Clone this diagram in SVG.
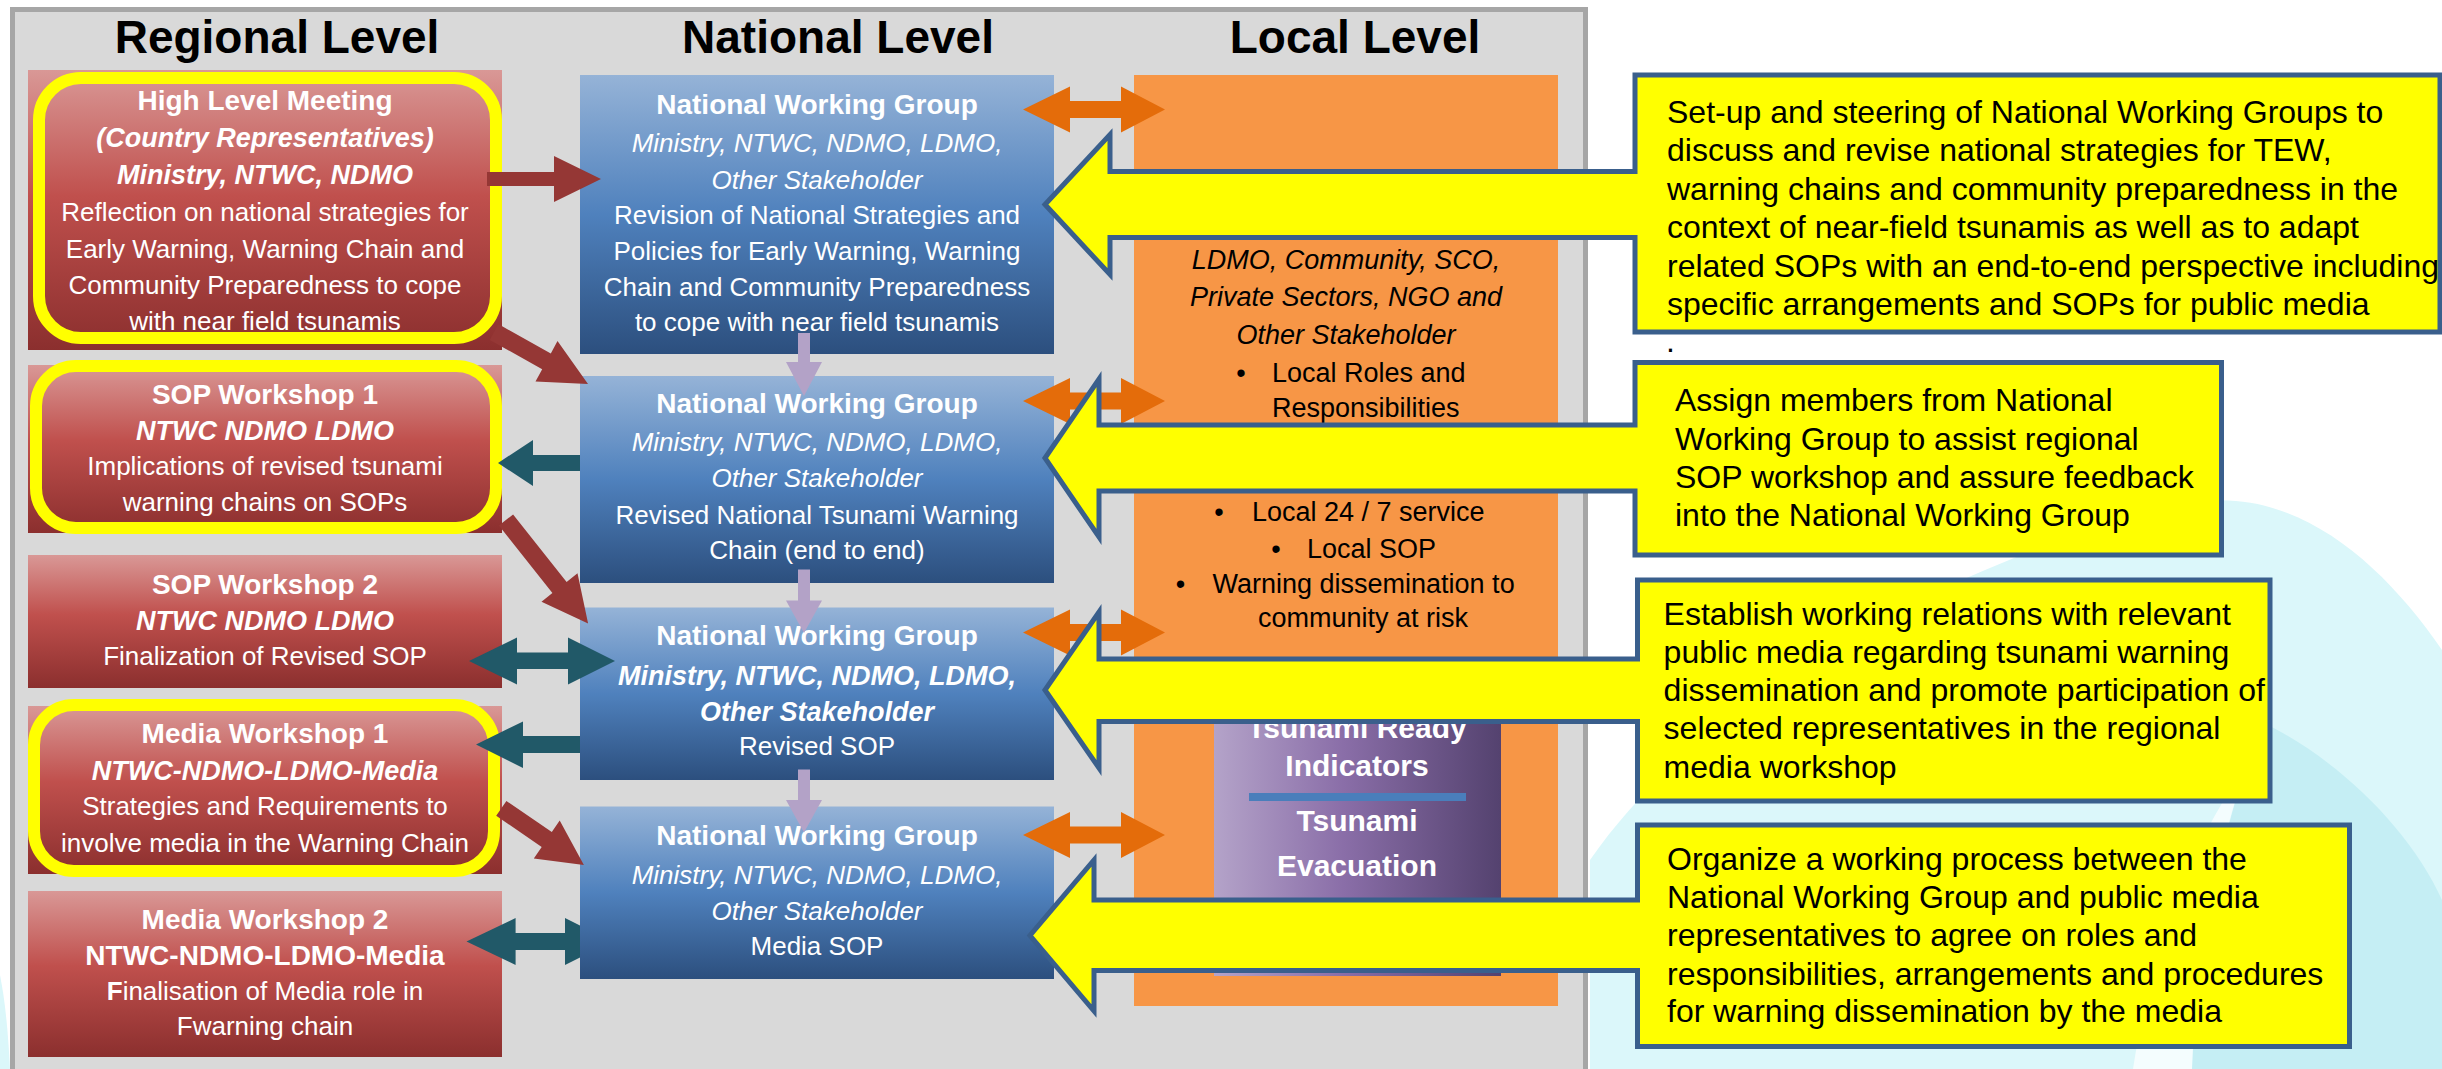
<svg xmlns="http://www.w3.org/2000/svg" width="2442" height="1069" viewBox="0 0 2442 1069">
<defs>
<linearGradient id="gRed" x1="0" y1="0" x2="0" y2="1">
<stop offset="0" stop-color="#d99896"/><stop offset="0.45" stop-color="#c0504d"/><stop offset="1" stop-color="#8b2f2e"/>
</linearGradient>
<linearGradient id="gBlue" x1="0" y1="0" x2="0" y2="1">
<stop offset="0" stop-color="#95b3d7"/><stop offset="0.5" stop-color="#4f81bd"/><stop offset="1" stop-color="#2c4f7e"/>
</linearGradient>
<linearGradient id="gPurple" x1="0" y1="0" x2="1" y2="0">
<stop offset="0" stop-color="#b4a3c9"/><stop offset="0.45" stop-color="#8a6ea8"/><stop offset="1" stop-color="#54426f"/>
</linearGradient>
<style>
text{font-family:"Liberation Sans",Arial,sans-serif}
.w{fill:#fff;font-size:26px;text-anchor:middle}
.b{font-weight:bold;font-size:28px}
.bi{font-weight:bold;font-style:italic;font-size:27px}
.i{font-style:italic}
.l{fill:#000;font-size:27px}
.lc{text-anchor:middle}
.c{fill:#000;font-size:32px}
.p{fill:#fff;font-size:30px;font-weight:bold;text-anchor:middle}
.h{fill:#000;font-size:46px;font-weight:bold;text-anchor:middle}
.red{fill:url(#gRed)}
.blue{fill:url(#gBlue)}
.ring{fill:none;stroke:#ffff00;stroke-width:12}
.ar{fill:#953735}
.at{fill:#215968}
.al{fill:#b3a2c7}
.ao{fill:#e46c0a}
.co{fill:#ffff00;stroke:#3a5f8c;stroke-width:5;stroke-linejoin:miter}
</style>
</defs>
<rect width="2442" height="1069" fill="#ffffff"/>
<g id="background">
<path d="M1590 1069 V860 C1700 700 1950 560 2180 505 C2290 480 2380 560 2442 650 V1069 Z" fill="#dbf7fa"/>
<path d="M2190 1069 C2200 930 2230 800 2262 722 C2340 760 2410 830 2442 900 V1069 Z" fill="#c5eef4"/>
<path d="M2133 1069 C2150 960 2180 870 2230 790 L2245 770 C2215 860 2196 960 2192 1069 Z" fill="#f4fdfe"/>
<path d="M0 975 C5 1000 8 1030 10 1069 H0 Z" fill="#dbf7fa"/>
</g>
<rect id="panel" x="12.5" y="9.5" width="1573" height="1075" fill="#d9d9d9" stroke="#a6a6a6" stroke-width="5"/>
<g id="titles">
<text class="h" x="277" y="53">Regional Level</text>
<text class="h" x="838" y="53">National Level</text>
<text class="h" x="1355" y="53">Local Level</text>
</g>

<g id="high-level-meeting">
<rect class="red" x="28" y="70" width="474" height="280"/>
<rect class="ring" x="39" y="78" width="457" height="260" rx="42"/>
<text class="w b" x="265" y="110">High Level Meeting</text>
<text class="w bi" x="265" y="147">(Country Representatives)</text>
<text class="w bi" x="265" y="184">Ministry, NTWC, NDMO</text>
<text class="w" x="265" y="221">Reflection on national strategies for</text>
<text class="w" x="265" y="257.5">Early Warning, Warning Chain and</text>
<text class="w" x="265" y="294">Community Preparedness to cope</text>
<text class="w" x="265" y="330">with near field tsunamis</text>
</g>
<g id="sop-workshop-1">
<rect class="red" x="28" y="365" width="474" height="168"/>
<rect class="ring" x="36" y="366" width="460" height="162" rx="40"/>
<text class="w b" x="265" y="403.6">SOP Workshop 1</text>
<text class="w bi" x="265" y="440">NTWC NDMO LDMO</text>
<text class="w" x="265" y="475">Implications of revised tsunami</text>
<text class="w" x="265" y="511">warning chains on SOPs</text>
</g>
<g id="sop-workshop-2">
<rect class="red" x="28" y="555" width="474" height="133"/>
<text class="w b" x="265" y="593.6">SOP Workshop 2</text>
<text class="w bi" x="265" y="629.7">NTWC NDMO LDMO</text>
<text class="w" x="265" y="665">Finalization of Revised SOP</text>
</g>
<g id="media-workshop-1">
<rect class="red" x="28" y="706" width="474" height="168"/>
<rect class="ring" x="34" y="705" width="460" height="166" rx="40"/>
<text class="w b" x="265" y="743">Media Workshop 1</text>
<text class="w bi" x="265" y="780">NTWC-NDMO-LDMO-Media</text>
<text class="w" x="265" y="815">Strategies and Requirements to</text>
<text class="w" x="265" y="851.5">involve media in the Warning Chain</text>
</g>
<g id="media-workshop-2">
<rect class="red" x="28" y="891" width="474" height="166"/>
<text class="w b" x="265" y="929">Media Workshop 2</text>
<text class="w b" x="265" y="965">NTWC-NDMO-LDMO-Media</text>
<text class="w" x="265" y="1000"><tspan font-weight="bold">F</tspan>inalisation of Media role in</text>
<text class="w" x="265" y="1035">Fwarning chain</text>
</g>

<g id="nwg-1">
<rect class="blue" x="580" y="75" width="474" height="279"/>
<text class="w b" x="817" y="113.6">National Working Group</text>
<text class="w i" x="817" y="151.5">Ministry, NTWC, NDMO, LDMO,</text>
<text class="w i" x="817" y="188.7">Other Stakeholder</text>
<text class="w" x="817" y="223.9">Revision of National Strategies and</text>
<text class="w" x="817" y="260">Policies for Early Warning, Warning</text>
<text class="w" x="817" y="295.5">Chain and Community Preparedness</text>
<text class="w" x="817" y="330.6">to cope with near field tsunamis</text>
</g>
<g id="nwg-2">
<rect class="blue" x="580" y="376" width="474" height="207"/>
<text class="w b" x="817" y="413">National Working Group</text>
<text class="w i" x="817" y="451">Ministry, NTWC, NDMO, LDMO,</text>
<text class="w i" x="817" y="487">Other Stakeholder</text>
<text class="w" x="817" y="523.5">Revised National Tsunami Warning</text>
<text class="w" x="817" y="559">Chain (end to end)</text>
</g>
<g id="nwg-3">
<rect class="blue" x="580" y="607.5" width="474" height="172.5"/>
<text class="w b" x="817" y="645">National Working Group</text>
<text class="w bi" x="817" y="684.7">Ministry, NTWC, NDMO, LDMO,</text>
<text class="w bi" x="817" y="721">Other Stakeholder</text>
<text class="w" x="817" y="755">Revised SOP</text>
</g>
<g id="nwg-4">
<rect class="blue" x="580" y="806.5" width="474" height="172.5"/>
<text class="w b" x="817" y="844.6">National Working Group</text>
<text class="w i" x="817" y="884">Ministry, NTWC, NDMO, LDMO,</text>
<text class="w i" x="817" y="920">Other Stakeholder</text>
<text class="w" x="817" y="954.6">Media SOP</text>
</g>

<g id="local-level">
<rect x="1134" y="75" width="424" height="931" fill="#f79646"/>
<text class="l i lc" x="1346" y="268.6">LDMO, Community, SCO,</text>
<text class="l i lc" x="1346" y="305.8">Private Sectors, NGO and</text>
<text class="l i lc" x="1346" y="344">Other Stakeholder</text>
<text class="l lc" x="1241" y="381.6">•</text>
<text class="l" x="1272" y="381.6">Local Roles and</text>
<text class="l" x="1272" y="416.7">Responsibilities</text>
<text class="l lc" x="1219" y="521">•</text>
<text class="l" x="1252" y="521">Local 24 / 7 service</text>
<text class="l lc" x="1276" y="557.5">•</text>
<text class="l" x="1307" y="557.5">Local SOP</text>
<text class="l lc" x="1180.5" y="593">•</text>
<text class="l" x="1212.5" y="593">Warning dissemination to</text>
<text class="l lc" x="1363" y="627">community at risk</text>
</g>
<g id="tsunami-ready">
<rect x="1214" y="670" width="287" height="306" fill="url(#gPurple)"/>
<text class="p" x="1357" y="738">Tsunami Ready</text>
<text class="p" x="1357" y="776">Indicators</text>
<rect x="1249" y="793" width="217" height="8" fill="#4a7ebb"/>
<text class="p" x="1357" y="831">Tsunami</text>
<text class="p" x="1357" y="876">Evacuation</text>
</g>

<g id="connectors">
<polygon class="ar" points="487,172 554,172 554,156 601,179 554,202 554,186 487,186"/>
<polygon class="ar" points="498.3,324.1 550.8,353.4 557.5,341.1 588,384 535.5,381.5 542.2,369.2 489.7,339.9"/>
<polygon class="ar" points="513.1,514.4 566.6,581.9 577.5,573.2 588.1,623.6 541.5,601.8 552.4,593.1 498.9,525.6"/>
<polygon class="ar" points="506.4,801 551.8,832.1 559.7,820.5 583.9,864.9 533.8,858.5 541.7,846.9 496.2,815.8"/>
<polygon class="at" points="580,455 533,455 533,440 498,463 533,486 533,471 580,471"/>
<polygon class="at" points="469,661 517,637.5 517,652.5 568,652.5 568,637.5 615,661 568,684.5 568,669 517,669 517,684.5"/>
<polygon class="at" points="580,736 523,736 523,721.5 476,744.5 523,768 523,753 580,753"/>
<polygon class="at" points="466.5,941.5 515.6,918 515.6,933 565,933 565,918 580,925.5 580,957.5 565,965 565,950 515.6,950 515.6,965"/>
<polygon class="al" points="798,333 810,333 810,362 822,362 804,396 786,362 798,362"/>
<polygon class="al" points="798,569.5 810,569.5 810,600.5 822,600.5 804,633 786,600.5 798,600.5"/>
<polygon class="al" points="798,769.6 810,769.6 810,800 822,800 804,832.5 786,800 798,800"/>
<polygon class="ao" points="1023,109.5 1070,86.5 1070,101 1121,101 1121,86.5 1165,109.5 1121,132.5 1121,118 1070,118 1070,132.5"/>
<polygon class="ao" points="1023,401 1070,378 1070,392.5 1121,392.5 1121,378 1165,401 1121,424 1121,409.5 1070,409.5 1070,424"/>
<polygon class="ao" points="1023,632.5 1070,609.5 1070,624 1121,624 1121,609.5 1165,632.5 1121,655.5 1121,641 1070,641 1070,655.5"/>
<polygon class="ao" points="1023,835 1070,812 1070,826.5 1121,826.5 1121,812 1165,835 1121,858 1121,843.5 1070,843.5 1070,858"/>
</g>

<g id="callout-1">
<path class="co" d="M1635 75 H2440 V332 H1635 V237.5 H1110 V274.5 L1045 204.5 L1110 134.5 V171.5 H1635 Z"/>
<text class="c" x="1667" y="122.7">Set-up and steering of National Working Groups to</text>
<text class="c" x="1667" y="161.2">discuss and revise national strategies for TEW,</text>
<text class="c" x="1667" y="199.7">warning chains and community preparedness in the</text>
<text class="c" x="1667" y="238.2">context of near-field tsunamis as well as to adapt</text>
<text class="c" x="1667" y="276.7">related SOPs with an end-to-end perspective including</text>
<text class="c" x="1667" y="315.2">specific arrangements and SOPs for public media</text>
<text class="c" x="1666" y="352" font-size="18">.</text>
</g>
<g id="callout-2">
<path class="co" d="M1635 362.5 H2221.5 V555 H1635 V491 H1099 V537 L1045 458 L1099 379 V425 H1635 Z"/>
<text class="c" x="1675" y="411.3">Assign members from National</text>
<text class="c" x="1675" y="449.6">Working Group to assist regional</text>
<text class="c" x="1675" y="487.8">SOP workshop and assure feedback</text>
<text class="c" x="1675" y="526">into the National Working Group</text>
</g>
<g id="callout-3">
<path class="co" d="M1637.5 580 H2270 V801 H1637.5 V721.5 H1099 V768 L1045 690 L1099 612 V659 H1637.5 Z"/>
<text class="c" x="1663.6" y="624.7">Establish working relations with relevant</text>
<text class="c" x="1663.6" y="662.9">public media regarding tsunami warning</text>
<text class="c" x="1663.6" y="701">dissemination and promote participation of</text>
<text class="c" x="1663.6" y="739.4">selected representatives in the regional</text>
<text class="c" x="1663.6" y="778">media workshop</text>
</g>
<g id="callout-4">
<path class="co" d="M1637.5 825 H2349.5 V1046.5 H1637.5 V970.5 H1094 V1011 L1030 935.5 L1094 860 V900 H1637.5 Z"/>
<text class="c" x="1667" y="870">Organize a working process between the</text>
<text class="c" x="1667" y="908">National Working Group and public media</text>
<text class="c" x="1667" y="946.4">representatives to agree on roles and</text>
<text class="c" x="1667" y="984.6">responsibilities, arrangements and procedures</text>
<text class="c" x="1667" y="1022.4">for warning dissemination by the media</text>
</g>
</svg>
